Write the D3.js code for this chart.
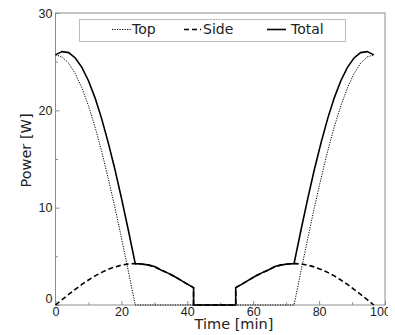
<!DOCTYPE html>
<html>
<head>
<meta charset="utf-8">
<script src="https://cdn.jsdelivr.net/npm/d3@7"></script>
<style>
  body { margin: 0; background: #fff; }
  svg { display: block; font-family: "DejaVu Sans", sans-serif; }
  .axis path, .axis line { stroke: #8c8c8c; }
  .axis text { fill: #222; font-size: 12.5px; }
</style>
</head>
<body>
<div id="chart"></div>
<script>
// time [min]
const time = [0, 2, 4, 6, 8, 10, 12, 14, 16, 18, 20, 22, 24, 24.2,
    26, 28, 30, 32, 34, 36, 38, 40, 41.9, 41.9,
    54.7, 54.7, 56.6, 58.6, 60.6, 62.6, 64.6, 66.6, 68.6, 70.6, 72.4,
    72.6, 74.6, 76.6, 78.6, 80.6, 82.6, 84.6, 86.6, 88.6, 90.6, 92.6, 94.6, 96.6]

const topPower = [25.7, 25.48, 24.84, 23.77, 22.31, 20.47, 18.29, 15.8, 13.02, 10.06, 6.91, 3.65, 0.33, 0,
    0, 0, 0, 0, 0, 0, 0, 0, 0, 0,
    0, 0, 0, 0, 0, 0, 0, 0, 0, 0, 0,
    0.33, 3.65, 6.91, 10.06, 13.02, 15.8, 18.29, 20.47, 22.31, 23.77, 24.84, 25.48, 25.7]

const sidePower = [0, 0.55, 1.09, 1.61, 2.11, 2.57, 2.99, 3.35, 3.66, 3.91, 4.09, 4.21, 4.25, 4.25,
    4.22, 4.12, 3.95, 3.6, 3.3, 2.95, 2.55, 2.15, 1.78, 0,
    0, 1.78, 2.15, 2.55, 2.95, 3.3, 3.6, 3.95, 4.12, 4.22, 4.25,
    4.25, 4.21, 4.09, 3.91, 3.66, 3.35, 2.99, 2.57, 2.11, 1.61, 1.09, 0.55, 0]

const totalPower = [25.7, 26.03, 25.93, 25.38, 24.42, 23.04, 21.28, 19.15, 16.68, 13.97, 11.0, 7.86, 4.58, 4.25,
    4.22, 4.12, 3.95, 3.6, 3.3, 2.95, 2.55, 2.15, 1.78, 0,
    0, 1.78, 2.15, 2.55, 2.95, 3.3, 3.6, 3.95, 4.12, 4.22, 4.25,
    4.58, 7.86, 11.0, 13.97, 16.68, 19.15, 21.28, 23.04, 24.42, 25.38, 25.93, 26.03, 25.7]

const xTicks = [0, 20, 40, 60, 80, 100]
const xMinor = [10, 30, 50, 70, 90]
const yTicks = [0, 10, 20, 30]
const yMinor = [5, 15, 25]

const series = [
    {name: "Top", values: topPower, dash: "1.2,1.3", width: 1},
    {name: "Side", values: sidePower, dash: "5,3", width: 1.6},
    {name: "Total", values: totalPower, dash: null, width: 1.6}
]

const width = 395
const height = 335
const margin = {top: 13, right: 10, bottom: 30, left: 55.5}

const x = d3.scaleLinear().domain([0, 100]).range([margin.left, width - margin.right])
const y = d3.scaleLinear().domain([0, 30]).range([height - margin.bottom, margin.top])

// the source figure is cut just right of the frame
const svg = d3.select("#chart")
    .append("svg")
    .attr("width", 388)
    .attr("height", height)

// frame
svg.append("rect")
    .attr("x", x(0))
    .attr("y", y(30))
    .attr("width", x(100) - x(0))
    .attr("height", y(0) - y(30))
    .attr("fill", "none")
    .attr("stroke", "#8c8c8c")

const xAxis = svg.append("g")
    .attr("class", "axis")
    .attr("transform", `translate(0, ${y(0)})`)
    .call(d3.axisBottom(x).tickValues(xTicks).tickFormat(d3.format("d")).tickSizeInner(-4).tickSizeOuter(0).tickPadding(2))
xAxis.select(".domain").remove()
xAxis.selectAll(".tick text")
    .attr("dx", d => d === 100 ? -5 : 0)

svg.append("g")
    .attr("class", "axis")
    .attr("transform", `translate(0, ${y(0)})`)
    .call(d3.axisBottom(x).tickValues(xMinor).tickFormat("").tickSizeInner(-2.5).tickSizeOuter(0))
    .select(".domain").remove()

const yAxis = svg.append("g")
    .attr("class", "axis")
    .attr("transform", `translate(${x(0)}, 0)`)
    .call(d3.axisLeft(y).tickValues(yTicks).tickFormat(d3.format("d")).tickSizeInner(-4).tickSizeOuter(0).tickPadding(4))
yAxis.select(".domain").remove()
yAxis.selectAll(".tick text")
    .attr("x", -3)
    .attr("dy", d => d === 0 ? "-0.2em" : "0.32em")

svg.append("g")
    .attr("class", "axis")
    .attr("transform", `translate(${x(0)}, 0)`)
    .call(d3.axisLeft(y).tickValues(yMinor).tickFormat("").tickSizeInner(-2.5).tickSizeOuter(0))
    .select(".domain").remove()

const line = d3.line()
    .x((d, i) => x(time[i]))
    .y(d => y(d))

svg.selectAll("path.series")
    .data(series)
    .join("path")
    .attr("class", "series")
    .attr("fill", "none")
    .attr("stroke", "#000")
    .attr("stroke-width", d => d.width)
    .attr("stroke-dasharray", d => d.dash)
    .attr("d", d => line(d.values))

// legend
const legend = svg.append("g")
legend.append("rect")
    .attr("x", 79.5)
    .attr("y", 19.5)
    .attr("width", 266)
    .attr("height", 22)
    .attr("fill", "#fff")
    .attr("stroke", "#bdbdbd")

const legendX = [112, 184, 267]
legend.selectAll("g.item")
    .data(series)
    .join("g")
    .attr("class", "item")
    .attr("transform", (d, i) => `translate(${legendX[i]}, 29.5)`)
    .each(function (d) {
        const g = d3.select(this)
        g.append("line")
            .attr("x1", 0).attr("x2", d.name === "Side" ? 17 : 19)
            .attr("stroke", "#000")
            .attr("stroke-width", d.width)
            .attr("stroke-dasharray", d.dash)
        g.append("text")
            .attr("x", d.name === "Side" ? 19 : (d.name === "Top" ? 20 : 24))
            .attr("y", 4.5)
            .attr("font-size", "14px")
            .attr("fill", "#222")
            .text(d.name)
    })

svg.append("text")
    .attr("x", 234)
    .attr("y", 329)
    .attr("text-anchor", "middle")
    .attr("font-size", "14.5px")
    .attr("fill", "#222")
    .text("Time [min]")

svg.append("text")
    .attr("transform", "translate(31, 150.5) rotate(-90)")
    .attr("text-anchor", "middle")
    .attr("font-size", "14.5px")
    .attr("fill", "#222")
    .text("Power [W]")
</script>
</body>
</html>
